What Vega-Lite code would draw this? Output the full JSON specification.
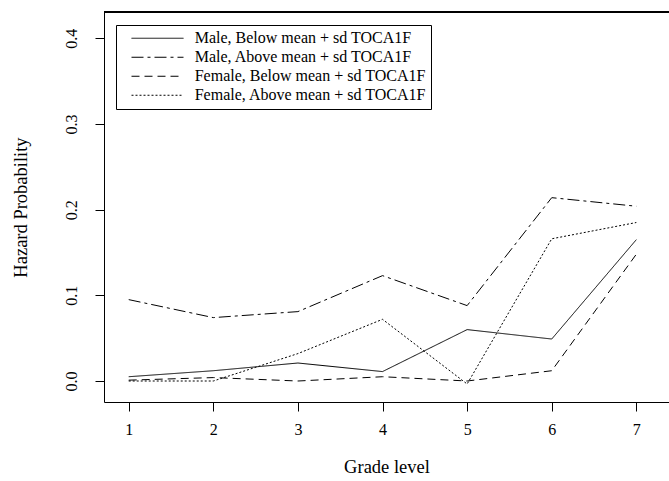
{
  "$schema": "https://vega.github.io/schema/vega-lite/v6.json",
  "width": 565,
  "height": 390,
  "autosize": {"type": "none"},
  "padding": {"left": 104, "top": 12, "right": 0, "bottom": 79},
  "background": "white",
  "config": {
    "view": {"stroke": null},
    "font": "Liberation Serif",
    "legend": {"strokeWidth": 1},
    "axis": {
      "grid": false,
      "domainColor": "black",
      "domainWidth": 1,
      "tickColor": "black",
      "tickWidth": 1,
      "tickSize": 9,
      "labelFont": "Liberation Serif",
      "labelFontSize": 16,
      "labelColor": "black",
      "titleFont": "Liberation Serif",
      "titleFontSize": 18.5,
      "titleFontWeight": "normal",
      "titleColor": "black"
    }
  },
  "data": {
    "values": [
      {"series": "Male, Below mean + sd TOCA1F", "grade": 1, "hazard": 0.005},
      {"series": "Male, Below mean + sd TOCA1F", "grade": 2, "hazard": 0.012},
      {"series": "Male, Below mean + sd TOCA1F", "grade": 3, "hazard": 0.021},
      {"series": "Male, Below mean + sd TOCA1F", "grade": 4, "hazard": 0.011},
      {"series": "Male, Below mean + sd TOCA1F", "grade": 5, "hazard": 0.060},
      {"series": "Male, Below mean + sd TOCA1F", "grade": 6, "hazard": 0.049},
      {"series": "Male, Below mean + sd TOCA1F", "grade": 7, "hazard": 0.165},
      {"series": "Male, Above mean + sd TOCA1F", "grade": 1, "hazard": 0.095},
      {"series": "Male, Above mean + sd TOCA1F", "grade": 2, "hazard": 0.074},
      {"series": "Male, Above mean + sd TOCA1F", "grade": 3, "hazard": 0.081},
      {"series": "Male, Above mean + sd TOCA1F", "grade": 4, "hazard": 0.123},
      {"series": "Male, Above mean + sd TOCA1F", "grade": 5, "hazard": 0.088},
      {"series": "Male, Above mean + sd TOCA1F", "grade": 6, "hazard": 0.214},
      {"series": "Male, Above mean + sd TOCA1F", "grade": 7, "hazard": 0.204},
      {"series": "Female, Below mean + sd TOCA1F", "grade": 1, "hazard": 0.001},
      {"series": "Female, Below mean + sd TOCA1F", "grade": 2, "hazard": 0.004},
      {"series": "Female, Below mean + sd TOCA1F", "grade": 3, "hazard": 0.0},
      {"series": "Female, Below mean + sd TOCA1F", "grade": 4, "hazard": 0.005},
      {"series": "Female, Below mean + sd TOCA1F", "grade": 5, "hazard": 0.0},
      {"series": "Female, Below mean + sd TOCA1F", "grade": 6, "hazard": 0.012},
      {"series": "Female, Below mean + sd TOCA1F", "grade": 7, "hazard": 0.148},
      {"series": "Female, Above mean + sd TOCA1F", "grade": 1, "hazard": 0.0},
      {"series": "Female, Above mean + sd TOCA1F", "grade": 2, "hazard": 0.0},
      {"series": "Female, Above mean + sd TOCA1F", "grade": 3, "hazard": 0.032},
      {"series": "Female, Above mean + sd TOCA1F", "grade": 4, "hazard": 0.072},
      {"series": "Female, Above mean + sd TOCA1F", "grade": 5, "hazard": -0.0035},
      {"series": "Female, Above mean + sd TOCA1F", "grade": 6, "hazard": 0.166},
      {"series": "Female, Above mean + sd TOCA1F", "grade": 7, "hazard": 0.185}
    ]
  },
  "layer": [
    {
      "mark": {"type": "line", "color": "black", "strokeWidth": 1, "strokeCap": "butt"},
      "encoding": {
        "x": {
          "field": "grade", "type": "quantitative",
          "scale": {"domain": [0.708, 7.386], "nice": false, "zero": false},
          "axis": {"values": [1, 2, 3, 4, 5, 6, 7], "format": "d", "title": "Grade level", "labelPadding": 10, "titlePadding": 20, "labelAngle": 0}
        },
        "y": {
          "field": "hazard", "type": "quantitative",
          "scale": {"domain": [-0.0245, 0.4307], "nice": false, "zero": false},
          "axis": {"values": [0, 0.1, 0.2, 0.3, 0.4], "format": ".1f", "title": "Hazard Probability", "labelAngle": -90, "labelAlign": "center", "labelBaseline": "alphabetic", "labelPadding": 19, "titlePadding": 33}
        },
        "strokeDash": {
          "field": "series", "type": "nominal",
          "scale": {
            "domain": ["Male, Below mean + sd TOCA1F", "Male, Above mean + sd TOCA1F", "Female, Below mean + sd TOCA1F", "Female, Above mean + sd TOCA1F"],
            "range": [[1, 0], [12, 4, 3, 4], [8, 5], [2, 2]]
          },
          "legend": {
            "title": null,
            "orient": "none",
            "legendX": 12,
            "legendY": 13,
            "symbolType": "stroke",
            "symbolSize": 2704,
            "symbolStrokeColor": "black",
            "symbolStrokeWidth": 1,
            "symbolOffset": 11,
            "labelOffset": 10.7,
            "labelFont": "Liberation Serif",
            "labelFontSize": 16,
            "labelColor": "black",
            "labelLimit": 0,
            "clipHeight": 18.5,
            "rowPadding": 0,
            "padding": 4,
            "strokeColor": "black",
            "fillColor": "white",
            "cornerRadius": 0
          }
        }
      }
    },
    {
      "mark": {"type": "rule", "color": "black", "strokeWidth": 1},
      "encoding": {
        "y": {"datum": 0.4307}
      }
    }
  ]
}
